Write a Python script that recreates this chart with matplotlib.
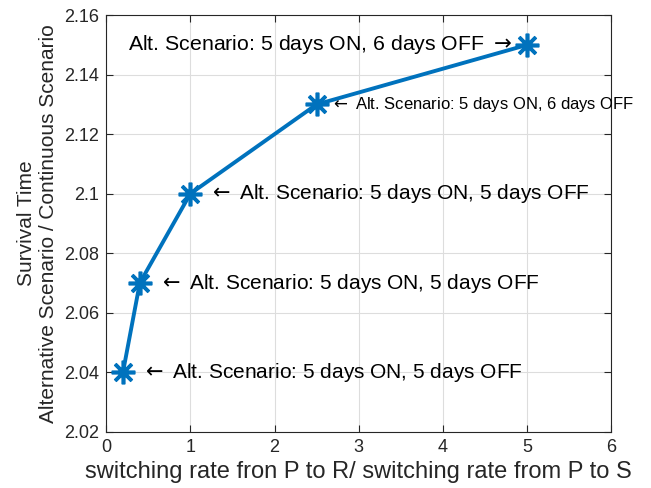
import numpy as np
import matplotlib.pyplot as plt

plt.rcParams['font.family'] = ['Liberation Sans', 'DejaVu Sans']

# ratio of switching rates and relative survival time
ratio = [0.2, 0.4, 1.0, 2.5, 5.0]
survival = [2.04, 2.07, 2.10, 2.13, 2.15]
schedules = ['5 days ON, 5 days OFF', '5 days ON, 5 days OFF',
             '5 days ON, 5 days OFF', '5 days ON, 6 days OFF',
             '5 days ON, 6 days OFF']

fig = plt.figure(figsize=(6.51, 4.88), dpi=100)
ax = fig.add_axes([0.163, 0.115, 0.776, 0.854])

# asterisk marker with 8 spokes
ax.plot(ratio, survival, '-', color='#0072BD', linewidth=2.8,
        marker=(8, 2, 0), markersize=17, markeredgewidth=2.6)

for i, (x, y, s) in enumerate(zip(ratio, survival, schedules)):
    if i == len(ratio) - 1:
        ax.annotate('Alt. Scenario: ' + s + r' $\rightarrow$', (x, y),
                    xytext=(-11, 0), textcoords='offset points',
                    ha='right', va='center', fontsize=15.3)
    elif i == 3:
        ax.annotate(r'$\leftarrow$ Alt. Scenario: ' + s, (x, y),
                    xytext=(10, 0), textcoords='offset points',
                    ha='left', va='center', fontsize=12)
    else:
        ax.annotate(r'$\leftarrow$ Alt. Scenario: ' + s, (x, y),
                    xytext=(13, 0), textcoords='offset points',
                    ha='left', va='center', fontsize=15)

ax.set_xlim(0, 6)
ax.set_ylim(2.02, 2.16)
ax.set_xticks(np.arange(0, 7, 1))
ax.set_yticks(np.arange(2.02, 2.1601, 0.02))
ax.set_yticklabels(['2.02', '2.04', '2.06', '2.08', '2.1', '2.12', '2.14', '2.16'])
ax.tick_params(direction='in', top=True, right=True, labelsize=13,
               colors='#262626', length=5, pad=5)
ax.grid(True, color='#dddddd', linewidth=0.8)
for sp in ax.spines.values():
    sp.set_color('#262626')
    sp.set_linewidth(0.8)

ax.set_xlabel('switching rate fron P to R/ switching rate from P to S',
              fontsize=17, color='#262626', labelpad=4)
ax.set_ylabel('Survival Time\nAlternative Scenario / Continuous Scenario',
              fontsize=15, color='#262626', linespacing=1.2, labelpad=4)

fig.savefig('out.png', dpi=100)
